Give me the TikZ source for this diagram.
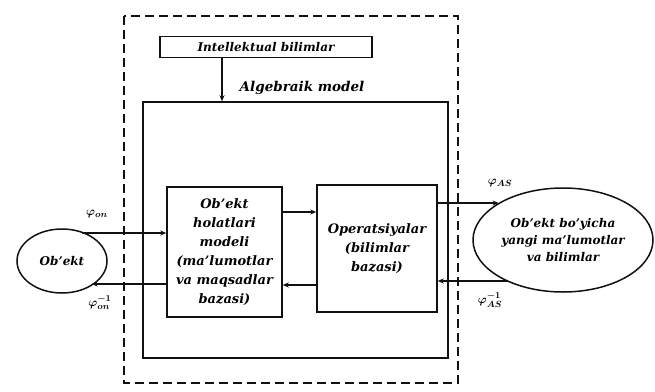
\documentclass[tikz,border=0pt]{standalone}
\usepackage{fontspec}
\setmainfont{DejaVu Serif}
\usepackage{xcolor}
\usepackage{tikz}
\usepackage{amsmath}
\usetikzlibrary{
  arrows.meta,
  shapes,
  shapes.geometric,
  positioning,
  calc
}
\definecolor{isInk}{HTML}{111111}

\begin{document}
\begin{tikzpicture}[x=1pt, y=-1pt,
  blockbox/.style={draw=isInk, line width=1.5pt, align=center, inner sep=2pt, font=\fontsize{13}{19}\selectfont\bfseries\itshape},
  roundbox/.style={ellipse, draw=isInk, line width=1.5pt, align=center, inner sep=0pt, font=\fontsize{12}{17}\selectfont\bfseries\itshape},
  flow/.style={-{Stealth[length=6pt, width=5pt]}, draw=isInk, line width=1.4pt},
  sig/.style={font=\fontsize{13}{15}\selectfont\boldmath}]
  \useasboundingbox (0,0) rectangle (655,391);
  \draw[isInk, line width=1.6pt, dash pattern=on 9pt off 5pt] (124,16) rectangle (458,383);
  \node[blockbox, minimum width=212pt, minimum height=21pt, font=\fontsize{12}{14}\selectfont\bfseries\itshape] (intel) at (266,47) {Intellektual bilimlar};
  \node[font=\fontsize{13.5}{15}\selectfont\bfseries\itshape] (algl) at (302,88) {Algebraik model};
  \node[draw=isInk, line width=1.5pt, minimum width=305pt, minimum height=256pt] (alg) at (295.5,230) {};
  \node[blockbox, minimum width=115pt, minimum height=130pt] (hol) at (224.5,252) {Ob'ekt\\holatlari\\modeli\\(ma'lumotlar\\va maqsadlar\\bazasi)};
  \node[blockbox, minimum width=120pt, minimum height=127pt] (ops) at (377,248.5) {Operatsiyalar\\(bilimlar\\bazasi)};
  \node[roundbox, minimum width=90pt, minimum height=64pt] (obj) at (62,261) {Ob'ekt};
  \node[roundbox, minimum width=180pt, minimum height=104pt] (new) at (563,240) {Ob'ekt bo'yicha\\yangi ma'lumotlar\\va bilimlar};
  % arrows
  \coordinate (drop) at (222,0);
  \coordinate (inY) at (0,233);
  \coordinate (backY) at (0,284);
  \coordinate (upY) at (0,212);
  \coordinate (lowY) at (0,285);
  \coordinate (outY) at (0,203);
  \coordinate (retY) at (0,281);
  \draw[flow] (intel.south -| drop) -- (alg.north -| drop);
  \draw[flow] (obj.55 |- inY) -- (hol.west |- inY);
  \draw[flow] (hol.west |- backY) -- (obj.-40 |- backY);
  \draw[flow] (hol.east |- upY) -- (ops.west |- upY);
  \draw[flow] (ops.west |- lowY) -- (hol.east |- lowY);
  \draw[flow] (ops.east |- outY) -- (new.150 |- outY);
  \draw[flow] (new.217 |- retY) -- (ops.east |- retY);
  % labels
  \node[sig] (son) at (97,214) {$\varphi_{on}$};
  \node[sig] (soninv) at (100,303) {$\varphi_{on}^{-1}$};
  \node[sig] (sas) at (500,183) {$\varphi_{AS}$};
  \node[sig] (sasinv) at (490,300) {$\varphi_{AS}^{-1}$};
\end{tikzpicture}
\end{document}
